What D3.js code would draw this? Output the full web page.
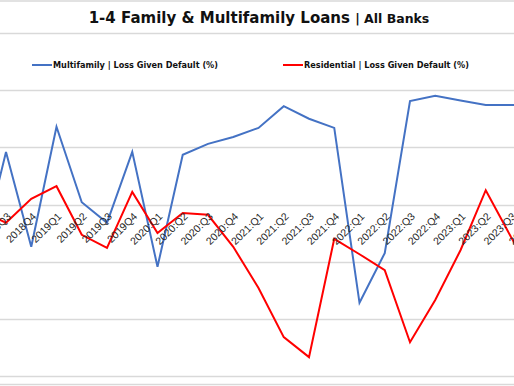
<!DOCTYPE html>
<html>
<head>
<meta charset="utf-8">
<script src="https://cdn.jsdelivr.net/npm/d3@7"></script>
<style>
  body { margin: 0; background: #fff; }
  svg { display: block; }
</style>
</head>
<body>
<div id="chart"></div>
<script>
const quarters = ['2018Q2', '2018Q3', '2018Q4', '2019Q1', '2019Q2', '2019Q3', '2019Q4',
  '2020:Q1', '2020:Q2', '2020:Q3', '2020:Q4', '2021:Q1', '2021:Q2', '2021:Q3', '2021:Q4',
  '2022:Q1', '2022:Q2', '2022:Q3', '2022:Q4', '2023:Q1', '2023:Q2', '2023:Q3', '2023:Q4'];

const multifamily = [21.0, 39.2, 22.6, 43.6, 30.4, 26.8, 39.2,
  19.1, 38.7, 40.6, 41.8, 43.4, 47.2, 45.0, 43.4,
  12.8, 21.5, 48.1, 49.0, 48.2, 47.4, 47.4, 47.4];

const residential = [29.0, 26.8, 31.0, 33.2, 24.7, 22.4, 32.2,
  25.0, 28.5, 28.2, 22.6, 15.4, 6.8, 3.3, 24.0,
  21.3, 18.5, 5.9, 13.3, 22.0, 32.5, 24.3, 16.8];

const gridValues = [0, 10, 20, 30, 40, 50, 60];
const axisValue = 30;

const series = [
  { name: 'Multifamily | Loss Given Default (%)', values: multifamily, color: '#4472C4' },
  { name: 'Residential | Loss Given Default (%)', values: residential, color: '#FF0000' }
];

const width = 514, height = 386;

const svg = d3.select('#chart').append('svg')
  .attr('width', width)
  .attr('height', height);

const x = d3.scalePoint().domain(quarters).range([-19.25, 536.25]);
const y = d3.scaleLinear().domain([0, 60]).range([376, 33]);

// gridlines
svg.append('g').selectAll('line')
  .data(gridValues)
  .enter()
  .append('line')
  .attr('x1', 0).attr('x2', width)
  .attr('y1', d => Math.round(y(d)) + 0.5)
  .attr('y2', d => Math.round(y(d)) + 0.5)
  .attr('stroke', '#d9d9d9')
  .attr('stroke-width', 1.5);

// frame lines
svg.append('line').attr('x1', 0).attr('x2', width).attr('y1', 1).attr('y2', 1)
  .attr('stroke', '#d9d9d9').attr('stroke-width', 1.5);
svg.append('line').attr('x1', 0).attr('x2', width).attr('y1', 384.5).attr('y2', 384.5)
  .attr('stroke', '#d9d9d9').attr('stroke-width', 1.5);

// lines
const line = d3.line()
  .x((d, i) => x(quarters[i]))
  .y(d => y(d));

svg.append('g').selectAll('path')
  .data(series)
  .enter()
  .append('path')
  .attr('d', d => line(d.values))
  .attr('fill', 'none')
  .attr('stroke', d => d.color)
  .attr('stroke-width', 2)
  .attr('stroke-linejoin', 'miter');

// category labels
svg.append('g').selectAll('text')
  .data(quarters)
  .enter()
  .append('text')
  .attr('transform', d => `translate(${x(d) + 3},${y(axisValue) + 10}) rotate(-45)`)
  .attr('text-anchor', 'end')
  .attr('dy', '0.35em')
  .style('font-family', '"Liberation Sans", Arial, sans-serif')
  .style('font-size', '10.5px')
  .style('fill', '#262626')
  .text(d => d);

// title
const title = svg.append('text')
  .attr('x', 259)
  .attr('y', 23)
  .attr('text-anchor', 'middle')
  .style('font-family', '"DejaVu Sans", Verdana, sans-serif')
  .style('font-weight', 'bold')
  .style('fill', '#111');
title.append('tspan').style('font-size', '15px').text('1-4 Family & Multifamily Loans ');
title.append('tspan').style('font-size', '12.5px').text('| All Banks');

// legend
const legendPos = [32, 283];
const legend = svg.append('g').selectAll('g')
  .data(series)
  .enter()
  .append('g')
  .attr('transform', (d, i) => `translate(${legendPos[i]},65)`);

legend.append('line')
  .attr('x1', 0).attr('x2', 20)
  .attr('y1', 0).attr('y2', 0)
  .attr('stroke', d => d.color)
  .attr('stroke-width', 2);

legend.append('text')
  .attr('x', 21)
  .attr('y', 3)
  .attr('textLength', 165)
  .attr('lengthAdjust', 'spacingAndGlyphs')
  .style('font-family', '"DejaVu Sans", Verdana, sans-serif')
  .style('font-weight', 'bold')
  .style('font-size', '8.5px')
  .style('fill', '#111')
  .text(d => d.name);
</script>
</body>
</html>
